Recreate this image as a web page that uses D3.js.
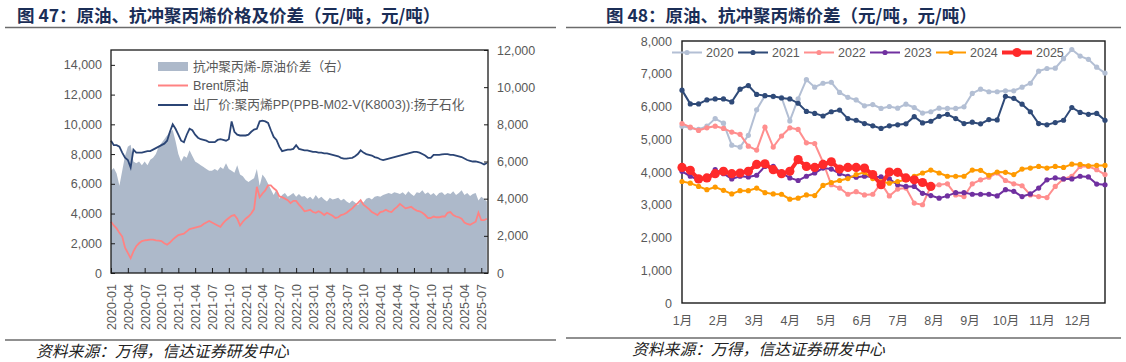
<!DOCTYPE html>
<html>
<head>
<meta charset="utf-8">
<script src="https://cdn.jsdelivr.net/npm/d3@7"></script>
<style>
  body { margin: 0; background: #fff; }
  svg { display: block; }
</style>
</head>
<body>
<svg id="page" width="1126" height="362"></svg>
<script>
// ---- left chart: half-monthly readings from 2020-01 to 2025-07 (index i -> month i/2) ----
const spreadRight = [
  5500, 5650, 5350, 4700, 5500, 6300, 6800, 6900, 6000, 5900, 6000, 5800, 6000, 5800, 6100, 6200,
  6400, 6800, 7000, 7200, 7400, 7600, 7700, 7100, 6400, 6000, 6300, 6200, 6600, 6300, 6000, 5900,
  5800, 5700, 5600, 5500, 5500, 5600, 5500, 5700, 5600, 5900, 5600, 5500, 5400, 5800, 5300, 5200,
  5000, 4900, 5000, 5100, 5600, 4700, 5300, 5100, 4800, 4500, 4200, 4500, 4000, 4200, 4300, 4100,
  4200, 4300, 4100, 4250, 4100, 4150, 4000, 4100, 3950, 4200, 4000, 4100, 3950, 3850, 4050, 3950,
  4000, 4050, 3900, 4000, 3850, 3750, 3900, 3800, 3650, 3850, 3800, 4000, 4050, 3950, 4100, 4150,
  4100, 4200, 4250, 4300, 4250, 4350, 4300, 4250, 4350, 4200, 4400, 4250, 4150, 4350, 4300, 4450,
  4250, 4350, 4200, 4300, 4150, 4300, 4350, 4200, 4300, 4250, 4400, 4200, 4300, 4450, 4200, 4300,
  4150, 4250, 4300, 3900, 4100, 4000, 3850
];
const brentPrice = [
  3450, 3200, 3000, 2700, 2450, 1700, 1350, 1000, 1450, 1800, 2000, 2150, 2200, 2220, 2250, 2250,
  2200, 2180, 2150, 2000, 1900, 2050, 2250, 2400, 2550, 2600, 2650, 2800, 2950, 3000, 3050, 3100,
  3150, 3300, 3400, 3500, 3400, 3300, 3200, 3100, 3350, 3550, 3700, 3850, 3900, 3650, 3200, 3450,
  3650, 3800, 4000, 4300, 5800, 5100, 5350, 5550, 5900, 5900, 5700, 5550, 5150, 5100, 5000, 4900,
  4700, 4850, 4850, 4600, 4400, 4150, 4200, 4250, 4100, 4050, 4150, 4050, 3900, 4050, 3950, 3850,
  3700, 3750, 3900, 3950, 4050, 4200, 4350, 4550, 4700, 4900, 4600, 4450, 4300, 4100, 4000, 3900,
  4100, 4150, 4250, 4150, 4100, 4300, 4450, 4650, 4500, 4350, 4400, 4450, 4300, 4200, 4150, 4050,
  3900, 3700, 3700, 3800, 3750, 3750, 3800, 3800, 4050, 4100, 3900, 3800, 3750, 3650, 3400, 3300,
  3250, 3350, 3450, 4050, 3550, 3550, 3650
];
const ppExFactory = [
  8900, 8600, 8600, 8500, 8100, 7750, 7600, 7100, 8300, 8100, 8100, 8100, 8150, 8200, 8200, 8300,
  8400, 8500, 8600, 8700, 8900, 9500, 10000, 9700, 9300, 8900, 8800, 9300, 9700, 9600, 9300, 9100,
  9000, 8950, 8900, 8800, 8800, 8800, 8950, 9000, 8950, 8900, 9000, 10200, 9500, 9300, 9250, 9250,
  9250, 9300, 9500, 9650, 9700, 10200, 10250, 10200, 10100, 9600, 9150, 8950, 8500, 8200, 8250, 8300,
  8300, 8350, 8600, 8350, 8300, 8250, 8250, 8200, 8150, 8150, 8100, 8100, 8050, 8050, 8000, 7950,
  7900, 7850, 7750, 7700, 7700, 7720, 7750, 7850, 8000, 8250, 8100, 8000, 7950, 7900, 7800, 7750,
  7650, 7600, 7650, 7700, 7750, 7800, 7850, 7900, 7950, 8000, 8050, 8100, 8150, 8150, 8100, 8000,
  7900, 7750, 7750, 7950, 7950, 7950, 7980, 8000, 8000, 7950, 7950, 7900, 7850, 7800, 7700, 7600,
  7550, 7500, 7500, 7450, 7400, 7300, 7400
];
const dateTickLabels = [
  '2020-01', '2020-04', '2020-07', '2020-10', '2021-01', '2021-04', '2021-07', '2021-10',
  '2022-01', '2022-04', '2022-07', '2022-10', '2023-01', '2023-04', '2023-07', '2023-10',
  '2024-01', '2024-04', '2024-07', '2024-10', '2025-01', '2025-04', '2025-07'
];

// ---- right chart: weekly spread by year ----
const years = ['2020', '2021', '2022', '2023', '2024', '2025'];
const spread2020 = [
  5400, 5350, 5300, 5400, 5630, 5490, 4820, 4760, 5120, 5900, 6330, 6300, 6280, 5560, 6230, 6820,
  6590, 6710, 6740, 6430, 6280, 6200, 6020, 6060, 5940, 6000, 5950, 6070, 5970, 5800, 5840, 5950,
  5940, 5940, 5990, 6400, 6530, 6450, 6450, 6480, 6480, 6590, 6710, 7080, 7160, 7170, 7460, 7740,
  7540, 7440, 7200, 7020
];
const spread2021 = [
  6500, 6080, 6080, 6200, 6230, 6230, 6140, 6530, 6640, 6370, 6330, 6310, 6260, 6230, 6100, 5850,
  5790, 5710, 5840, 5890, 5630, 5580, 5480, 5410, 5330, 5410, 5440, 5470, 5690, 5500, 5550, 5700,
  5760, 5630, 5480, 5520, 5470, 5600, 5590, 6310, 6250, 6070, 5840, 5480, 5440, 5510, 5580, 5970,
  5820, 5760, 5790, 5580
];
const spread2022 = [
  5480, 5370, 5270, 5350, 5400, 5330, 5220, 5150, 4790, 4670, 5370, 4760, 5100, 5350, 5300, 4890,
  4870, 4300, 3610, 3510, 3320, 3400, 3300, 3320, 3660, 3270, 3480, 3510, 3050, 3000, 3560, 3610,
  3640, 3300, 3250, 3640, 3760, 3840, 3970, 3740, 3640, 3580, 3300, 3250, 3220, 3560, 3790, 3870,
  4170, 4170, 4070, 3920
];
const spread2023 = [
  4020, 3870, 3760, 3800, 4070, 3950, 3790, 3870, 3850, 3900, 4170, 4170, 3970, 3820, 3740, 3870,
  3970, 4120, 4090, 3950, 3870, 3840, 3870, 3850, 3850, 3790, 3610, 3560, 3560, 3350, 3280, 3200,
  3270, 3370, 3370, 3320, 3320, 3320, 3270, 3460, 3410, 3250, 3330, 3510, 3760, 3820, 3790, 3790,
  3870, 3850, 3630, 3610
];
const spread2024 = [
  3710, 3660, 3560, 3460, 3540, 3440, 3330, 3430, 3430, 3510, 3370, 3330, 3320, 3170, 3200, 3300,
  3280, 3590, 3680, 3740, 3800, 3920, 3990, 3800, 3710, 3660, 3710, 3760, 3870, 3970, 4060, 3970,
  3870, 3870, 3870, 4060, 4050, 3900, 4000, 3990, 3920, 4090, 4120, 4170, 4120, 4170, 4140, 4240,
  4230, 4190, 4200, 4200
];
const spread2025 = [
  4140, 4050, 3790, 3820, 3950, 4020, 3950, 3970, 4020, 4230, 4250, 4070, 3950, 4020, 4380, 4170,
  4140, 4230, 4310, 4090, 4140, 4140, 4120, 3920, 3610, 4000, 3990, 3820, 3760, 3680, 3560
];
const monthLabels = ['1月', '2月', '3月', '4月', '5月', '6月', '7月', '8月', '9月', '10月', '11月', '12月'];

const yearColours = ['#B3BFD4', '#2F4A78', '#FF8E8E', '#7030A0', '#FF9A00', '#FF2A2A'];

const svg = d3.select('#page');
const labelFont = '"Liberation Sans", Arial, "Noto Sans CJK SC", sans-serif';
const cjkFont = '"Liberation Sans", "Noto Sans CJK SC", sans-serif';
const grey = '#595959';

// titles and footers
function header(x0, x1, tx, text) {
	svg.append('text')
		.attr('x', tx).attr('y', 22)
		.style('font', 'bold 17.5px "Noto Sans CJK SC", sans-serif')
		.attr('fill', '#1B2E57')
		.text(text);
	svg.append('line').attr('x1', x0).attr('x2', x1).attr('y1', 27.5).attr('y2', 27.5)
		.attr('stroke', '#6b6b6b').attr('stroke-width', 1.5);
}
function footer(x0, x1, tx, ly) {
	svg.append('line').attr('x1', x0).attr('x2', x1).attr('y1', ly).attr('y2', ly)
		.attr('stroke', '#6b6b6b').attr('stroke-width', 1.5);
	svg.append('text')
		.attr('x', tx).attr('y', ly + 17)
		.style('font', 'italic 15.8px "Noto Sans CJK SC", sans-serif')
		.attr('fill', '#222')
		.text('资料来源：万得，信达证券研发中心');
}
header(5, 556, 17, '图 47：原油、抗冲聚丙烯价格及价差（元/吨，元/吨）');
header(566, 1121, 606, '图 48：原油、抗冲聚丙烯价差（元/吨，元/吨）');
footer(5, 556, 36, 340);
footer(566, 1121, 632, 338);

// ================= left chart =================
{
	const left = 111, right = 488, top = 50, bottom = 273;
	const x = d3.scaleLinear().domain([0, 67.2]).range([left, right]);
	const yL = d3.scaleLinear().domain([0, 15000]).range([bottom, top]);
	const yR = d3.scaleLinear().domain([0, 12000]).range([bottom, top]);
	const g = svg.append('g');

	g.append('path')
		.datum(spreadRight)
		.attr('fill', '#ADB9CA')
		.attr('d', d3.area().x((d, i) => x(i / 2)).y0(yR(0)).y1(d => yR(d)));

	const line = d3.line().x((d, i) => x(i / 2)).y(d => yL(d));
	g.append('path').datum(brentPrice)
		.attr('fill', 'none').attr('stroke', '#FF8282').attr('stroke-width', 1.8)
		.attr('d', line);
	g.append('path').datum(ppExFactory)
		.attr('fill', 'none').attr('stroke', '#2B4575').attr('stroke-width', 1.8)
		.attr('d', line);

	g.append('rect')
		.attr('x', left).attr('y', top).attr('width', right - left).attr('height', bottom - top)
		.attr('fill', 'none').attr('stroke', '#1a1a1a').attr('stroke-width', 1.3);

	const axL = g.append('g').attr('transform', `translate(${left},0)`)
		.call(d3.axisLeft(yL).tickValues(d3.range(0, 14001, 2000)).tickFormat(d3.format(','))
			.tickSize(-4).tickPadding(9));
	const axR = g.append('g').attr('transform', `translate(${right},0)`)
		.call(d3.axisRight(yR).tickValues(d3.range(0, 12001, 2000)).tickFormat(d3.format(','))
			.tickSize(-4).tickPadding(9));
	const axB = g.append('g').attr('transform', `translate(0,${bottom})`)
		.call(d3.axisBottom(x).tickValues(dateTickLabels.map((d, i) => i * 3))
			.tickFormat((d, i) => dateTickLabels[i]).tickSize(-5));
	axB.selectAll('text')
		.attr('transform', 'rotate(-90)')
		.attr('x', -11).attr('y', 0).attr('dy', '0.35em')
		.style('text-anchor', 'end');
	[axL, axR, axB].forEach(a => {
		a.select('.domain').remove();
		a.selectAll('line').attr('stroke', '#1a1a1a');
		a.selectAll('text').style('font', `12.5px ${labelFont}`).attr('fill', grey);
	});

	// legend
	const lg = g.append('g').style('font', `12.7px ${cjkFont}`).attr('fill', grey);
	lg.append('rect').attr('x', 158).attr('y', 62).attr('width', 30).attr('height', 9).attr('fill', '#ADB9CA');
	lg.append('line').attr('x1', 158).attr('x2', 188).attr('y1', 85.5).attr('y2', 85.5)
		.attr('stroke', '#FF8282').attr('stroke-width', 2);
	lg.append('line').attr('x1', 158).attr('x2', 188).attr('y1', 105).attr('y2', 105)
		.attr('stroke', '#2B4575').attr('stroke-width', 2);
	const legendNames = ['抗冲聚丙烯-原油价差（右）', 'Brent原油', '出厂价:聚丙烯PP(PPB-M02-V(K8003)):扬子石化'];
	lg.selectAll('text.name').data(legendNames).join('text')
		.attr('class', 'name')
		.attr('x', 193).attr('y', (d, i) => [67, 86, 105][i]).attr('dy', '0.35em')
		.text(d => d);
}

// ================= right chart =================
{
	const left = 682, right = 1105, top = 41, bottom = 303;
	const x = d3.scaleLinear().domain([0, 51]).range([left, right]);
	const y = d3.scaleLinear().domain([0, 8000]).range([bottom, top]);
	const g = svg.append('g');

	g.append('rect')
		.attr('x', left).attr('y', top).attr('width', right - left).attr('height', bottom - top)
		.attr('fill', 'none').attr('stroke', '#1a1a1a').attr('stroke-width', 1.4);

	const axY = g.append('g').attr('transform', `translate(${left},0)`)
		.call(d3.axisLeft(y).tickValues(d3.range(0, 8001, 1000)).tickFormat(d3.format(','))
			.tickSize(0).tickPadding(10));
	const axX = g.append('g').attr('transform', `translate(0,${bottom})`)
		.call(d3.axisBottom(x).tickValues(monthLabels.map((d, i) => i * 52 / 12))
			.tickFormat((d, i) => monthLabels[i]).tickSize(0).tickPadding(13));
	[axY, axX].forEach(a => {
		a.select('.domain').remove();
		a.selectAll('text').style('font', `12.5px ${cjkFont}`).attr('fill', grey);
	});

	const seriesList = [spread2020, spread2021, spread2022, spread2023, spread2024, spread2025];
	const line = d3.line().x((d, i) => x(i)).y(d => y(d));
	seriesList.forEach((vals, k) => {
		const big = k === 5;
		const sg = g.append('g');
		sg.append('path').datum(vals)
			.attr('fill', 'none').attr('stroke', yearColours[k]).attr('stroke-width', big ? 4 : 2)
			.attr('d', line);
		sg.selectAll('circle').data(vals).join('circle')
			.attr('cx', (d, i) => x(i)).attr('cy', d => y(d))
			.attr('r', big ? 4.6 : 2.6)
			.attr('fill', yearColours[k]);
	});

	// legend
	const lg = g.append('g');
	years.forEach((yr, k) => {
		const lx = 672 + 66 * k, ly = 52.5;
		const big = k === 5;
		lg.append('line').attr('x1', lx).attr('x2', lx + 30).attr('y1', ly).attr('y2', ly)
			.attr('stroke', yearColours[k]).attr('stroke-width', big ? 4 : 2);
		lg.append('circle').attr('cx', lx + 15).attr('cy', ly).attr('r', big ? 4.6 : 2.6)
			.attr('fill', yearColours[k]);
		lg.append('text').attr('x', lx + 34).attr('y', ly).attr('dy', '0.35em')
			.style('font', `12.5px ${labelFont}`).attr('fill', grey)
			.text(yr);
	});
}
</script>
</body>
</html>
